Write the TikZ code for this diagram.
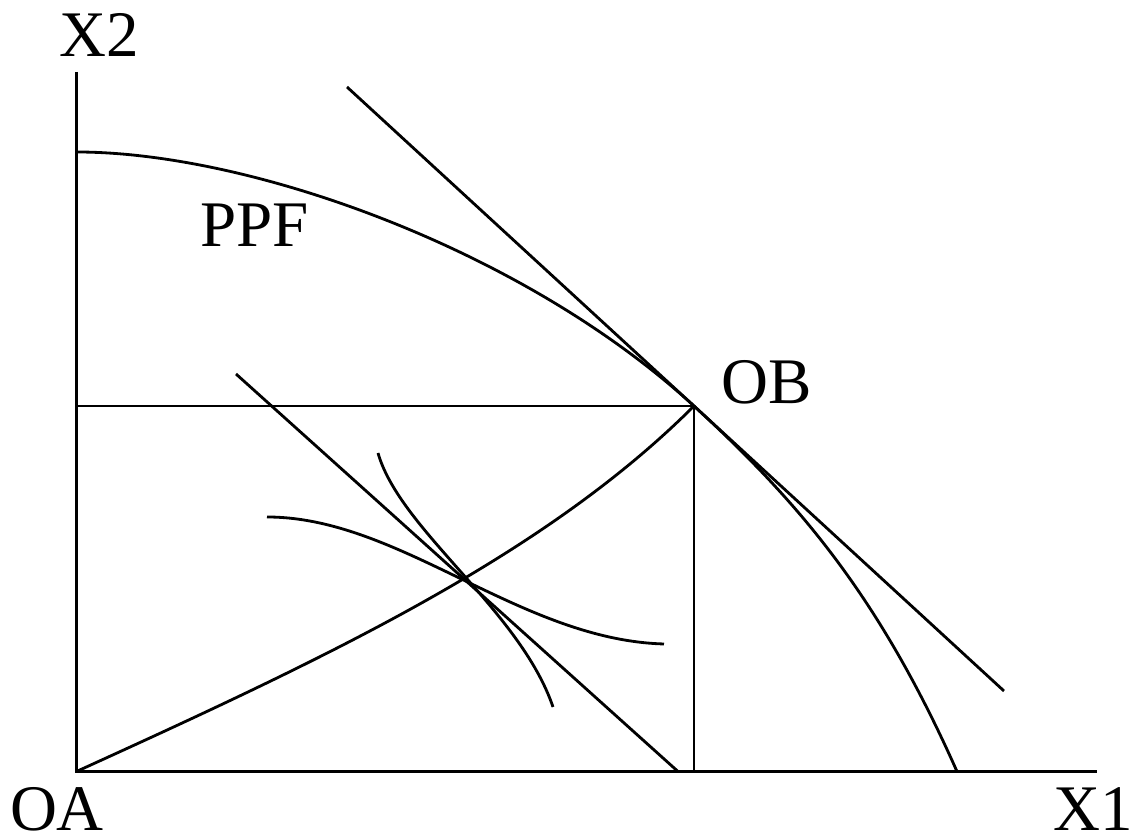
\documentclass[tikz,border=0pt]{standalone}
\usepackage{fontspec}
\setmainfont{Liberation Serif}
\begin{document}
\begin{tikzpicture}[
  ln/.style={line width=0.8pt, black},
  lbl/.style={anchor=base, inner sep=0pt, font=\fontsize{18.5}{20}\selectfont}
]
\useasboundingbox (0,0) rectangle (11.36,8.4);
% key points
\coordinate (OA) at (0.765,0.685);
\coordinate (ytop) at (0.765,7.68);
\coordinate (xend) at (10.97,0.685);
\coordinate (ppfA) at (0.765,6.88);
\coordinate (OBp) at (6.94,4.34);
\coordinate (ppfB) at (9.57,0.685);
\coordinate (tanA) at (3.47,7.53);
\coordinate (tanB) at (10.04,1.49);
\coordinate (hL) at (0.765,4.34);
\coordinate (vB) at (6.94,0.685);
\coordinate (prA) at (2.36,4.66);
\coordinate (prB) at (6.78,0.685);
\coordinate (icA1) at (2.67,3.23);
\coordinate (icA2) at (6.64,1.96);
\coordinate (icB1) at (3.78,3.87);
\coordinate (icB2) at (5.53,1.33);
% axes
\draw[ln] (ytop) -- (OA) -- (xend);
% PPF
\draw[ln] (ppfA) .. controls (2.50,6.88) and (5.23,5.91) .. (OBp)
          .. controls (7.94,3.42) and (8.77,2.49) .. (ppfB);
% tangent (price) line at OB
\draw[ln] (tanA) -- (tanB);
% box lines
\draw[ln] (hL) -- (OBp) -- (vB);
% contract curve
\draw[ln] (OA) .. controls (3.26,1.82) and (5.44,2.84) .. (OBp);
% price line in the box
\draw[ln] (prA) -- (prB);
% indifference curves
\draw[ln] (icA1) .. controls (4.00,3.23) and (5.20,2.00) .. (icA2);
\draw[ln] (icB1) .. controls (4.00,3.10) and (5.20,2.30) .. (icB2);
% labels
\node[lbl] (lx2) at (0.99,7.83) {X2};
\node[lbl] (lppf) at (2.545,5.93) {PPF};
\node[lbl] (lob) at (7.67,4.36) {OB};
\node[lbl] (loa) at (0.57,0.09) {OA};
\node[lbl] (lx1) at (10.93,0.09) {X1};
\end{tikzpicture}
\end{document}
